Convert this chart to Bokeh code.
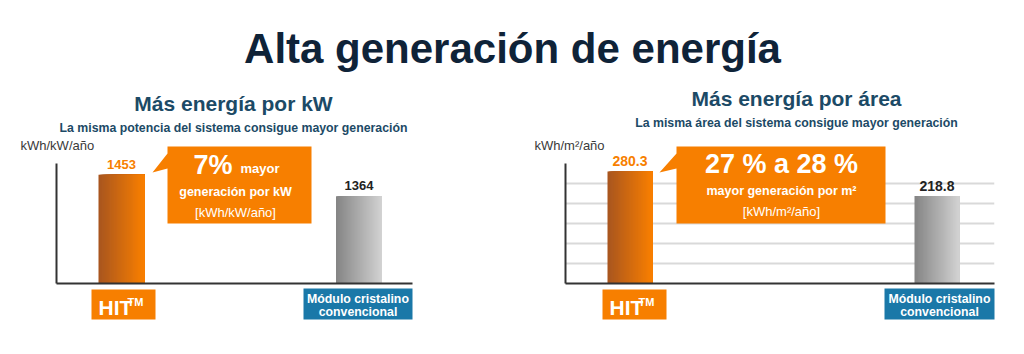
import numpy as np
from bokeh.plotting import figure
from bokeh.layouts import column, row
from bokeh.models import Range1d, FixedTicker, ColumnDataSource
from bokeh.core.properties import value
from bokeh.embed import file_html
from bokeh.resources import INLINE

FONT = "Liberation Sans"

# ---------------- data ----------------
categories = ["HIT™", "Módulo cristalino convencional"]
kw_values = [1453, 1364]
area_values = [280.3, 218.8]
kw_value_labels = ["1453", "1364"]
area_value_labels = ["280.3", "218.8"]
kw_axis_range = [1000, 1500]
area_axis_range = [0, 300]
area_grid_ticks = [50, 100, 150, 200, 250, 300]

main_title = "Alta generación de energía"
kw_title = "Más energía por kW"
kw_subtitle = "La misma potencia del sistema consigue mayor generación"
kw_unit = "kWh/kW/año"
area_title = "Más energía por área"
area_subtitle = "La misma área del sistema consigue mayor generación"
area_unit = "kWh/m²/año"
kw_callout = ["7%", "mayor", "generación por kW", "[kWh/kW/año]"]
area_callout = ["27 % a 28 %", "mayor generación por m²", "[kWh/m²/año]"]
hit_label = ["HIT", "TM"]
module_label = ["Módulo cristalino", "convencional"]

# ---------------- style ----------------
ORANGE = "#f77f00"
BLUE = "#1a78a8"
NAVY = "#0f2338"
TEAL = "#1c4a66"
AXIS = "#333333"
BAR_COLORS = [("#a9561f", "#f97f00"), ("#858585", "#d2d2d2")]

TITLE_H = 75
PANEL_W, PANEL_H = 512, 279
FRAME_TOP, FRAME_BOTTOM = 163, 283
BASELINE_FIX = 0.28  # em shift so the given y is the glyphs' baseline


def hex2rgb(h):
    h = h.lstrip("#")
    return [int(h[i:i + 2], 16) for i in (0, 2, 4)]


def mix(c1, c2, f):
    a, b = hex2rgb(c1), hex2rgb(c2)
    return "#%02x%02x%02x" % tuple(int(round(a[i] + (b[i] - a[i]) * f)) for i in range(3))


def txt(p, x, y, s, size, color, bold=True, align="center", y_offset=0):
    p.text(x=[x], y=[y], text=[s], text_font=value(FONT), text_font_size=f"{size}px",
           text_font_style="bold" if bold else "normal", text_color=color,
           text_align=align, text_baseline="alphabetic",
           y_offset=y_offset - BASELINE_FIX * size, level="overlay")


def build_panel(x0, frame_l, frame_r, c0, c1, yr):
    unit = c1 - c0
    xs = -(c0 - frame_l) / unit
    xe = xs + (frame_r - frame_l) / unit
    ymin, ymax = yr
    k = (ymax - ymin) / (FRAME_BOTTOM - FRAME_TOP)
    X = lambda px: xs + (px - frame_l) / unit
    Y = lambda py: ymin + (FRAME_BOTTOM - py) * k
    p = figure(width=PANEL_W, height=PANEL_H, x_range=Range1d(xs, xe), y_range=Range1d(ymin, ymax),
               output_backend="svg", toolbar_location=None,
               min_border_left=frame_l - x0, min_border_right=x0 + PANEL_W - frame_r,
               min_border_top=FRAME_TOP - TITLE_H,
               min_border_bottom=TITLE_H + PANEL_H - FRAME_BOTTOM)
    p.outline_line_color = None
    p.background_fill_color = "white"
    p.border_fill_color = "white"
    for ax in (p.xaxis[0], p.yaxis[0]):
        ax.ticker = FixedTicker(ticks=[])
        ax.major_label_text_font_size = "0px"
        ax.major_tick_line_color = None
        ax.minor_tick_line_color = None
        ax.axis_line_color = AXIS
        ax.axis_line_width = 2
    p.xgrid.visible = False
    p.ygrid.visible = False
    return p, X, Y, unit, k


def draw_bars(p, vals, bottom, width_units, n=40):
    # gradient: stacked strips, each one running to the bar's right edge
    src = dict(left=[], right=[], top=[], color=[])
    for i, v in enumerate(vals):
        cl, cr = BAR_COLORS[i]
        left0, right0 = i - width_units / 2, i + width_units / 2
        for j in range(n):
            src["left"].append(left0 + j * width_units / n)
            src["right"].append(right0)
            src["top"].append(v)
            src["color"].append(mix(cl, cr, j / (n - 1)))
    p.quad(left="left", right="right", top="top", bottom=bottom,
           fill_color="color", line_color=None, source=ColumnDataSource(src))


def callout(p, X, Y, l, r, t, b, tip):
    tx, ty = tip
    px = [l, r, r, l, l, tx, l]
    py = [t, t, b, b, 168, ty, 153]
    p.patch([X(v) for v in px], [Y(v) for v in py], fill_color=ORANGE, line_color=None, level="overlay")


def label_box(p, X, Y, l, r, t, b, color):
    p.quad(left=[X(l)], right=[X(r)], top=[Y(t)], bottom=[Y(b)], fill_color=color,
           line_color=None, level="overlay")


# ---------------- title ----------------
tfig = figure(width=1024, height=TITLE_H, x_range=Range1d(0, 1024), y_range=Range1d(TITLE_H, 0),
              output_backend="svg", toolbar_location=None, min_border=0)
tfig.axis.visible = False
tfig.grid.visible = False
tfig.outline_line_color = None
txt(tfig, 512, 60, main_title, 42, NAVY)

# ---------------- left panel ----------------
pl, XL, YL, uL, kL = build_panel(0, 56, 412, 121, 358.5, kw_axis_range)
draw_bars(pl, kw_values, kw_axis_range[0], 46 / uL)
txt(pl, XL(233), YL(109), kw_title, 21, TEAL)
txt(pl, XL(233), YL(131), kw_subtitle, 12.3, TEAL)
txt(pl, XL(20), YL(149), kw_unit, 13, "#3a3a3a", bold=False, align="left")
for i, (v, s) in enumerate(zip(kw_values, kw_value_labels)):
    txt(pl, i, v, s, 13, ORANGE if i == 0 else "#222222", y_offset=-7)
callout(pl, XL, YL, 167, 311, 146, 223, (152, 172))
txt(pl, XL(193), YL(172), kw_callout[0], 27, "white", align="left")
txt(pl, XL(240), YL(172), kw_callout[1], 13, "white", align="left")
txt(pl, XL(235), YL(195), kw_callout[2], 12.5, "white")
txt(pl, XL(235), YL(216), kw_callout[3], 13, "white", bold=False)
label_box(pl, XL, YL, 91, 155, 289, 319, ORANGE)
txt(pl, XL(98), YL(313), hit_label[0], 21, "white", align="left")
txt(pl, XL(127), YL(305), hit_label[1], 11, "white", align="left")
label_box(pl, XL, YL, 303, 412, 288, 319, BLUE)
txt(pl, XL(357.5), YL(301.5), module_label[0], 12.3, "white")
txt(pl, XL(357.5), YL(315), module_label[1], 12.3, "white")

# ---------------- right panel ----------------
pr, XR, YR, uR, kR = build_panel(512, 565, 994, 629.5, 936.5, area_axis_range)
pr.ygrid.visible = True
pr.ygrid.ticker = FixedTicker(ticks=area_grid_ticks)
pr.ygrid.grid_line_color = "#d9d9d9"
pr.ygrid.grid_line_width = 2
draw_bars(pr, area_values, area_axis_range[0], 45 / uR)
txt(pr, XR(796), YR(104), area_title, 21, TEAL)
txt(pr, XR(796), YR(126), area_subtitle, 12.3, TEAL)
txt(pr, XR(534), YR(149), area_unit, 13, "#3a3a3a", bold=False, align="left")
for i, (v, s) in enumerate(zip(area_values, area_value_labels)):
    txt(pr, i, v, s, 14, ORANGE if i == 0 else "#222222", y_offset=-6)
callout(pr, XR, YR, 676, 885, 146, 223, (659, 172))
txt(pr, XR(781), YR(171), area_callout[0], 27, "white")
txt(pr, XR(781), YR(194), area_callout[1], 12.5, "white")
txt(pr, XR(781), YR(215), area_callout[2], 13, "white", bold=False)
label_box(pr, XR, YR, 602, 666, 289, 319, ORANGE)
txt(pr, XR(609), YR(313), hit_label[0], 21, "white", align="left")
txt(pr, XR(638), YR(305), hit_label[1], 11, "white", align="left")
label_box(pr, XR, YR, 884, 994, 288, 319, BLUE)
txt(pr, XR(939), YR(301.5), module_label[0], 12.3, "white")
txt(pr, XR(939), YR(315), module_label[1], 12.3, "white")

layout = column(tfig, row(pl, pr, spacing=0), spacing=0)
open("out.html", "w").write(file_html(layout, INLINE))
